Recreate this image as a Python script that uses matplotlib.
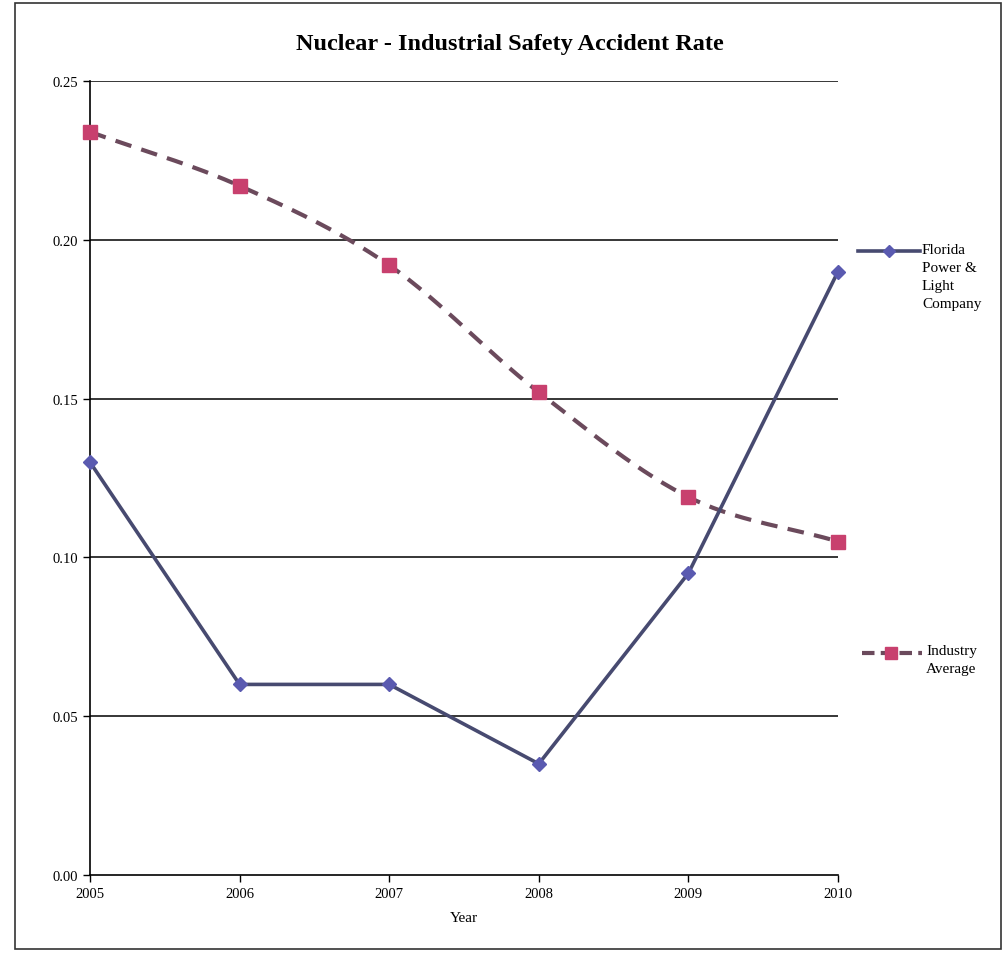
import matplotlib
matplotlib.use("Agg")
import matplotlib.pyplot as plt
from matplotlib.lines import Line2D
from matplotlib.patches import Rectangle
import numpy as np

years = [2005, 2006, 2007, 2008, 2009, 2010]
fpl_rate = [0.130, 0.060, 0.060, 0.035, 0.095, 0.190]
industry_rate = [0.234, 0.217, 0.192, 0.152, 0.119, 0.105]

plt.rcParams['font.family'] = ['Liberation Serif', 'DejaVu Serif']


def smooth(xs, ys, n=30):
    # Catmull-Rom curve through the points, like Excel's "smoothed line"
    xs = np.asarray(xs, float)
    ys = np.asarray(ys, float)
    px = np.concatenate([[2 * xs[0] - xs[1]], xs, [2 * xs[-1] - xs[-2]]])
    py = np.concatenate([[2 * ys[0] - ys[1]], ys, [2 * ys[-1] - ys[-2]]])
    out_x, out_y = [], []
    for i in range(1, len(px) - 2):
        t = np.linspace(0, 1, n, endpoint=False)
        for p, out in ((px, out_x), (py, out_y)):
            p0, p1, p2, p3 = p[i - 1], p[i], p[i + 1], p[i + 2]
            out.extend(0.5 * ((2 * p1) + (-p0 + p2) * t
                              + (2 * p0 - 5 * p1 + 4 * p2 - p3) * t ** 2
                              + (-p0 + 3 * p1 - 3 * p2 + p3) * t ** 3))
    out_x.append(xs[-1])
    out_y.append(ys[-1])
    return out_x, out_y


fig = plt.figure(figsize=(10.03, 9.54), dpi=100)
ax = fig.add_axes([0.0897, 0.0818, 0.7458, 0.8322])

fpl_line = '#474a70'
fpl_marker = '#5a5ab0'
ind_line = '#6b4a5c'
ind_marker = '#c8406e'

for v in [0.05, 0.10, 0.15, 0.20, 0.25]:
    ax.axhline(v, color='black', lw=1.1, zorder=1)

sx, sy = smooth(years, industry_rate)
ax.plot(sx, sy, color=ind_line, lw=3, dashes=(4, 2.5), zorder=2)
ax.plot(years, industry_rate, ls='none', marker='s', ms=10,
        mfc=ind_marker, mec=ind_marker, zorder=3, clip_on=False)

ax.plot(years, fpl_rate, color=fpl_line, lw=2.6, zorder=4)
ax.plot(years, fpl_rate, ls='none', marker='D', ms=7,
        mfc=fpl_marker, mec=fpl_marker, zorder=5, clip_on=False)

ax.set_xlim(2005, 2010)
ax.set_ylim(0, 0.25)
ax.set_xticks(years)
ax.set_yticks([0, 0.05, 0.10, 0.15, 0.20, 0.25])
ax.set_yticklabels(['0.00', '0.05', '0.10', '0.15', '0.20', '0.25'])
ax.tick_params(labelsize=10.5, length=5, width=1, direction='out')
ax.spines['top'].set_visible(False)
ax.spines['right'].set_visible(False)
ax.spines['left'].set_linewidth(1.2)
ax.spines['bottom'].set_linewidth(1.2)
ax.set_xlabel('Year', fontsize=11, labelpad=8)

fig.text(0.508, 0.953, 'Nuclear - Industrial Safety Accident Rate',
         ha='center', va='center', fontsize=17.5, fontweight='bold')

# legend, drawn by hand so each entry sits where it does in the original
W, H = 1003, 954
fig.add_artist(Line2D([858 / W, 920 / W], [1 - 252 / H] * 2, color=fpl_line, lw=2.6,
                      transform=fig.transFigure))
fig.add_artist(Line2D([889 / W], [1 - 252 / H], marker='D', ms=6, ls='none',
                      mfc=fpl_marker, mec=fpl_marker, transform=fig.transFigure))
fig.text(922 / W, 1 - 244 / H, 'Florida\nPower &\nLight\nCompany',
         ha='left', va='top', fontsize=11, linespacing=1.5)

fig.add_artist(Line2D([862 / W, 922 / W], [1 - 654 / H] * 2, color=ind_line, lw=3,
                      dashes=(3, 1.5), transform=fig.transFigure))
fig.add_artist(Line2D([891 / W], [1 - 654 / H], marker='s', ms=9, ls='none',
                      mfc=ind_marker, mec=ind_marker, transform=fig.transFigure))
fig.text(926 / W, 1 - 645 / H, 'Industry\nAverage',
         ha='left', va='top', fontsize=11, linespacing=1.5)

fig.add_artist(Rectangle((0.015, 0.004), 0.983, 0.992, transform=fig.transFigure,
                         fill=False, ec='#333333', lw=1.2))

fig.savefig('out.png', dpi=100)
